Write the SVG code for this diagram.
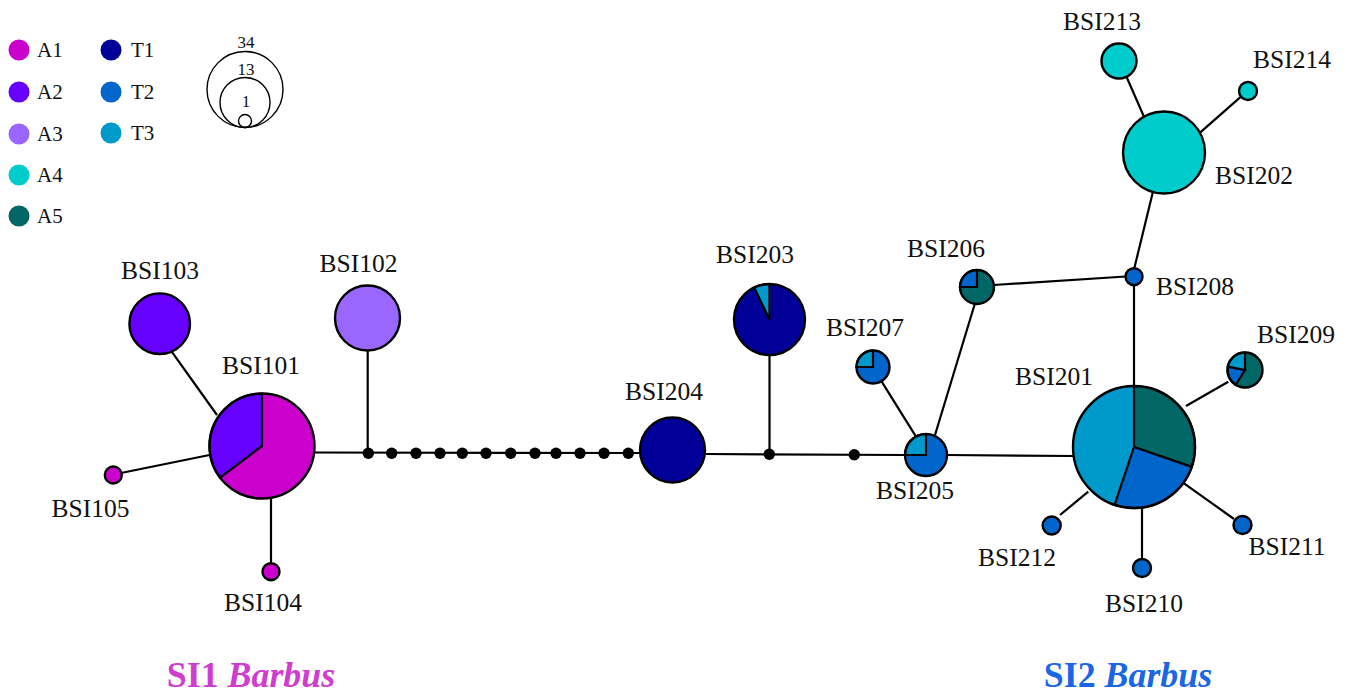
<svg xmlns="http://www.w3.org/2000/svg" width="1349" height="696" viewBox="0 0 1349 696">
<style>
.e{stroke:#000;stroke-width:2.2;fill:none}
.n{stroke:#000;stroke-width:2.4}
.w{stroke:#000;stroke-width:2.2;stroke-linejoin:miter}
.lb{font-family:"Liberation Serif","Times New Roman",serif;font-size:25.5px;fill:#111;text-anchor:middle}
.lg{font-family:"Liberation Serif","Times New Roman",serif;font-size:21px;fill:#111}
.sz{font-family:"Liberation Serif","Times New Roman",serif;font-size:17px;fill:#111;text-anchor:middle}
.A1{fill:#CC00CC}.A2{fill:#6600FF}.A3{fill:#9966FF}.A4{fill:#00CCCC}.A5{fill:#006666}
.T1{fill:#000099}.T2{fill:#0066CC}.T3{fill:#0099CC}
.mv{fill:#000}
.ttl{font-family:"Liberation Serif","Times New Roman",serif;font-size:32px;font-weight:bold;text-anchor:middle}
</style>
<rect width="1349" height="696" fill="#fff"/>
<g id="legend">
<circle cx="19" cy="50" r="10.5" class="A1"/><text x="37" y="57" class="lg">A1</text>
<circle cx="19" cy="92" r="10.5" class="A2"/><text x="37" y="99" class="lg">A2</text>
<circle cx="19" cy="134" r="10.5" class="A3"/><text x="37" y="141" class="lg">A3</text>
<circle cx="19" cy="175" r="10.5" class="A4"/><text x="37" y="182" class="lg">A4</text>
<circle cx="19" cy="216" r="10.5" class="A5"/><text x="37" y="223" class="lg">A5</text>
<circle cx="111" cy="50" r="10.5" class="T1"/><text x="131" y="57" class="lg">T1</text>
<circle cx="111" cy="92" r="10.5" class="T2"/><text x="131" y="99" class="lg">T2</text>
<circle cx="111" cy="133" r="10.5" class="T3"/><text x="131" y="140" class="lg">T3</text>
<g fill="none" stroke="#000" stroke-width="1.4">
<circle cx="245" cy="89.5" r="38"/>
<circle cx="245" cy="102.5" r="25"/>
<circle cx="245" cy="121" r="6.5"/>
</g>
<text x="246" y="48" class="sz">34</text>
<text x="246" y="75" class="sz">13</text>
<text x="246" y="107" class="sz">1</text>
</g>
<g id="connectors">
<line class="e" x1="314" y1="452.5" x2="640" y2="453"/>
<line class="e" x1="706" y1="454" x2="905" y2="455"/>
<line class="e" x1="947" y1="455" x2="1073" y2="456"/>
<line class="e" x1="367.7" y1="350" x2="367.7" y2="453"/>
<line class="e" x1="171.7" y1="351.7" x2="217" y2="415"/>
<line class="e" x1="121" y1="473" x2="209.5" y2="455"/>
<line class="e" x1="271" y1="498" x2="271" y2="563"/>
<line class="e" x1="769.5" y1="355" x2="769.5" y2="454"/>
<line class="e" x1="881.7" y1="381.7" x2="916" y2="436.7"/>
<line class="e" x1="975" y1="303.3" x2="935" y2="435"/>
<line class="e" x1="994" y1="285" x2="1125.7" y2="276.5"/>
<line class="e" x1="1134" y1="285" x2="1134" y2="386"/>
<line class="e" x1="1134.3" y1="268.3" x2="1152.7" y2="192.7"/>
<line class="e" x1="1126.7" y1="77.3" x2="1144" y2="116.7"/>
<line class="e" x1="1241" y1="96.7" x2="1200" y2="132.7"/>
<line class="e" x1="1228.3" y1="381.7" x2="1186" y2="406"/>
<line class="e" x1="1060" y1="515" x2="1088.3" y2="491.7"/>
<line class="e" x1="1142" y1="507" x2="1142" y2="559"/>
<line class="e" x1="1184" y1="483.3" x2="1234" y2="519"/>
<g class="mv">
<circle cx="368.3" cy="453.3" r="5.7"/><circle cx="391.7" cy="453.3" r="5.7"/><circle cx="416" cy="453.3" r="5.7"/>
<circle cx="440" cy="453.3" r="5.7"/><circle cx="462.3" cy="453.3" r="5.7"/><circle cx="486" cy="453.3" r="5.7"/>
<circle cx="510.7" cy="453.3" r="5.7"/><circle cx="535" cy="453.3" r="5.7"/><circle cx="556" cy="453.3" r="5.7"/>
<circle cx="580" cy="453.3" r="5.7"/><circle cx="604" cy="453.3" r="5.7"/><circle cx="628.3" cy="453.3" r="5.7"/>
<circle cx="769.3" cy="454.3" r="5.7"/><circle cx="854.3" cy="454.8" r="5.7"/>
</g>
</g>
<g id="BSI101">
<circle cx="262" cy="446" r="52.5" class="A1"/>
<path d="M262,446 L220.1,477.6 A52.5,52.5 0 0 1 262,393.5 Z" class="A2 w"/>
<circle cx="262" cy="446" r="52.5" class="n" fill="none"/>
<text x="261" y="374" class="lb">BSI101</text>
</g>
<g id="BSI102"><circle cx="367.5" cy="318" r="32.5" class="A3 n"/><text x="358.5" y="272" class="lb">BSI102</text></g>
<g id="BSI103"><circle cx="159.7" cy="323.7" r="30.3" class="A2 n"/><text x="160" y="279" class="lb">BSI103</text></g>
<g id="BSI104"><circle cx="271" cy="571.7" r="8.5" class="A1 n"/><text x="263" y="611" class="lb">BSI104</text></g>
<g id="BSI105"><circle cx="113.3" cy="475" r="8.5" class="A1 n"/><text x="90.5" y="517" class="lb">BSI105</text></g>
<g id="BSI204"><circle cx="672.5" cy="450" r="32.5" class="T1 n"/><text x="664" y="400" class="lb">BSI204</text></g>
<g id="BSI203">
<circle cx="769.5" cy="319.5" r="35.5" class="T1"/>
<path d="M769.5,319.5 L754.2,287.5 A35.5,35.5 0 0 1 769.5,284 Z" class="T3 w"/>
<circle cx="769.5" cy="319.5" r="35.5" class="n" fill="none"/>
<text x="755" y="263" class="lb">BSI203</text>
</g>
<g id="BSI205">
<circle cx="926" cy="455" r="21" class="T2"/>
<path d="M926,455 L905,455 A21,21 0 0 1 926,434 Z" class="T3 w"/>
<circle cx="926" cy="455" r="21" class="n" fill="none"/>
<text x="915" y="499" class="lb">BSI205</text>
</g>
<g id="BSI207">
<circle cx="873" cy="367" r="16.5" class="T2"/>
<path d="M873,367 L856.5,367 A16.5,16.5 0 0 1 873,350.5 Z" class="T3 w"/>
<circle cx="873" cy="367" r="16.5" class="n" fill="none"/>
<text x="865" y="336" class="lb">BSI207</text>
</g>
<g id="BSI206">
<circle cx="977" cy="287" r="17" class="A5"/>
<path d="M977,287 L960,287 A17,17 0 0 1 977,270 Z" class="T2 w"/>
<circle cx="977" cy="287" r="17" class="n" fill="none"/>
<text x="946" y="257" class="lb">BSI206</text>
</g>
<g id="BSI208"><circle cx="1134" cy="276.7" r="8.5" class="T2 n"/><text x="1195" y="295" class="lb">BSI208</text></g>
<g id="BSI202"><circle cx="1164" cy="152.5" r="41" class="A4 n"/><text x="1254" y="184" class="lb">BSI202</text></g>
<g id="BSI213"><circle cx="1119" cy="61" r="17.5" class="A4 n"/><text x="1102" y="30" class="lb">BSI213</text></g>
<g id="BSI214"><circle cx="1248" cy="91" r="9" class="A4 n"/><text x="1292" y="68" class="lb">BSI214</text></g>
<g id="BSI201">
<circle cx="1134" cy="447" r="61" class="T3"/>
<path d="M1134,447 L1134,386 A61,61 0 0 1 1191.7,466.9 Z" class="A5 w"/>
<path d="M1134,447 L1191.7,466.9 A61,61 0 0 1 1114.6,504.8 Z" class="T2 w"/>
<circle cx="1134" cy="447" r="61" class="n" fill="none"/>
<text x="1054" y="385" class="lb">BSI201</text>
</g>
<g id="BSI209">
<circle cx="1245" cy="370" r="17.5" class="A5"/>
<path d="M1245,370 L1235.7,384.8 A17.5,17.5 0 0 1 1227.8,366.7 Z" class="T2 w"/>
<path d="M1245,370 L1227.8,366.7 A17.5,17.5 0 0 1 1245,352.5 Z" class="T3 w"/>
<circle cx="1245" cy="370" r="17.5" class="n" fill="none"/>
<text x="1296" y="343" class="lb">BSI209</text>
</g>
<g id="BSI212"><circle cx="1051.7" cy="525.5" r="9" class="T2 n"/><text x="1017" y="566" class="lb">BSI212</text></g>
<g id="BSI210"><circle cx="1142" cy="568" r="9" class="T2 n"/><text x="1144" y="612" class="lb">BSI210</text></g>
<g id="BSI211"><circle cx="1242.5" cy="525" r="9" class="T2 n"/><text x="1287" y="555" class="lb">BSI211</text></g>
<g id="titles">
<text x="0" y="0" class="ttl" fill="#D03CD0" transform="translate(251 687) scale(1.12 1.1)">SI1 <tspan font-style="italic">Barbus</tspan></text>
<text x="0" y="0" class="ttl" fill="#1A66E6" transform="translate(1128 687) scale(1.12 1.1)">SI2 <tspan font-style="italic">Barbus</tspan></text>
</g>
</svg>
